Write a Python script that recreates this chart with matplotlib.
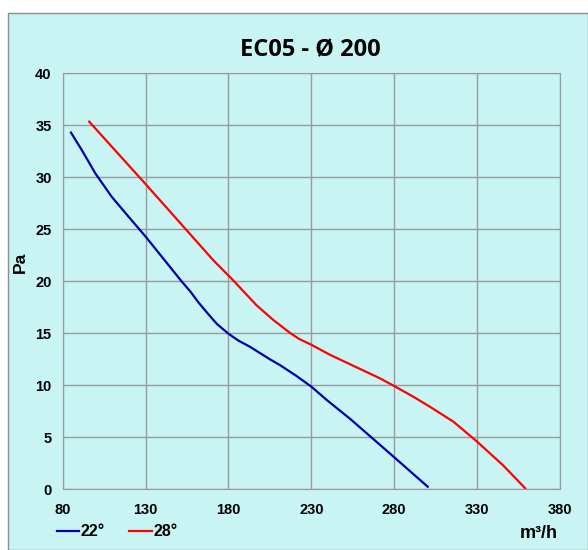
import matplotlib.pyplot as plt
from matplotlib.patches import Rectangle

# Curve readings (m3/h vs Pa)
flow_22 = [85, 91.6, 99.6, 109.7, 119.8, 130, 151.7, 157.1, 162, 167, 173, 180, 186, 193,
           205, 211, 221, 230, 239.2, 253.5, 280, 300.2]
pa_22 = [34.3, 32.6, 30.4, 28.1, 26.2, 24.3, 20.0, 19.0, 17.95, 17.0, 15.9, 14.96, 14.3,
         13.7, 12.5, 11.95, 10.9, 9.87, 8.6, 6.76, 3.08, 0.25]

flow_28 = [96, 130, 171, 182.8, 196.9, 206.9, 217, 222.7, 230, 241, 259, 271, 280, 291.5,
           301.5, 315.7, 330, 345.7, 359]
pa_28 = [35.35, 29.35, 22.0, 20.1, 17.7, 16.3, 15.05, 14.45, 13.9, 12.95, 11.6, 10.7, 9.93,
         8.9, 7.94, 6.5, 4.58, 2.3, 0.1]

x_ticks = [80, 130, 180, 230, 280, 330, 380]
y_ticks = [0, 5, 10, 15, 20, 25, 30, 35, 40]

bg = '#c8f4f4'
grid_col = '#999999'

fig = plt.figure(figsize=(5.88, 5.5), dpi=100, facecolor='white')
W, H = 588, 550

# outer chart frame
fig.patches.append(Rectangle((8 / W, 0), 1 - 8 / W, 1 - 13 / H, transform=fig.transFigure,
                             facecolor=bg, edgecolor='#8c8c8c', linewidth=1, zorder=-5))

ax = fig.add_axes([62.7 / W, 1 - 489.3 / H, (560 - 62.7) / W, (489.3 - 73.3) / H])
ax.set_facecolor(bg)
ax.plot(flow_22, pa_22, color='#0000a8', linewidth=1.6, label='22°')
ax.plot(flow_28, pa_28, color='#ff0000', linewidth=1.6, label='28°')

ax.set_xlim(80, 380)
ax.set_ylim(0, 40)
ax.set_xticks(x_ticks)
ax.set_yticks(y_ticks)
ax.grid(True, color=grid_col, linewidth=1)
ax.set_axisbelow(True)
for s in ax.spines.values():
    s.set_color(grid_col)
ax.tick_params(length=0, labelsize=10.5, pad=8)
for lbl in ax.get_xticklabels() + ax.get_yticklabels():
    lbl.set_fontweight('bold')
    lbl.set_fontfamily('Liberation Sans')
ax.tick_params(axis='x', pad=10)

fig.text(310 / W, 1 - 50 / H, 'EC05 - Ø 200', ha='center', va='center',
         fontsize=17, fontweight='bold', family='Open Sans')
fig.text(20 / W, 1 - 262 / H, 'Pa', ha='center', va='center', rotation=90,
         fontsize=12.5, fontweight='bold', family='Liberation Sans')
fig.text(539 / W, 1 - 534 / H, 'm³/h', ha='center', va='center',
         fontsize=13, fontweight='bold', family='Liberation Sans')

leg = fig.legend(loc='center left', bbox_to_anchor=(57 / W, 1 - 532 / H), ncol=2,
                 frameon=False, handlelength=1.4, handletextpad=0.1, columnspacing=1.5,
                 borderpad=0, borderaxespad=0,
                 prop={'family': 'Liberation Sans', 'weight': 'bold', 'size': 11.5})

fig.savefig('out.png', dpi=100, facecolor='white')
